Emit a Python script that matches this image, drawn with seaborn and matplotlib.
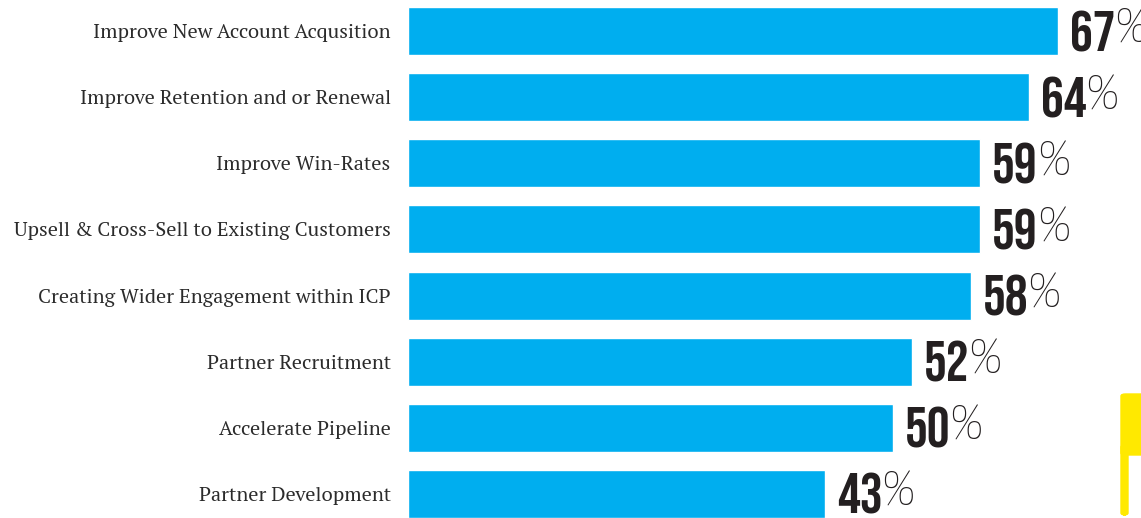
import matplotlib
matplotlib.use("Agg")
import matplotlib.pyplot as plt
import seaborn as sns
import pandas as pd
from matplotlib import font_manager as fm
from matplotlib.patches import FancyBboxPatch

categories = [
    "Improve New Account Acqusition",
    "Improve Retention and or Renewal",
    "Improve Win-Rates",
    "Upsell & Cross-Sell to Existing Customers",
    "Creating Wider Engagement within ICP",
    "Partner Recruitment",
    "Accelerate Pipeline",
    "Partner Development",
]
values = [67, 64, 59, 59, 58, 52, 50, 43]

_fonts = {}
for f in fm.fontManager.ttflist:
    try:
        w = int(f.weight)
    except (TypeError, ValueError):
        w = {"bold": 700, "light": 300, "normal": 400, "regular": 400}.get(str(f.weight), 400)
    _fonts.setdefault(f.name, set()).add(w)


def pick(cands, fallback="DejaVu Sans"):
    for c, need in cands:
        if c in _fonts and (need is None or need(_fonts[c])):
            return c
    return fallback


heavy = lambda ws: any(w >= 600 for w in ws)
thin = lambda ws: any(w <= 300 for w in ws)
bold_font = pick([("Bebas Neue", None), ("League Gothic", None), ("Anton", None),
                  ("Barlow Condensed", heavy)])
light_font = pick([("Yanone Kaffeesatz", thin), ("Saira Extra Condensed", thin),
                   ("Antonio", thin), ("Barlow Condensed", thin)])
serif_font = pick([("PT Serif", None), ("Source Serif 4", None), ("Noto Serif", None)],
                  fallback="DejaVu Serif")

df = pd.DataFrame({"category": categories, "value": values})

sns.set_theme(style="white")
W, H = 1141, 518
fig = plt.figure(figsize=(W / 100, H / 100), dpi=100)
ax = fig.add_axes([408 / W, 0, 733 / W, 1])
sns.barplot(data=df, y="category", x="value", orient="h", color="#00AEEF",
            saturation=1, width=48 / 66, ax=ax)
ax.set_xlim(0, 733 / 9.7)
ax.set_ylim(7 + (518 - 494) / 66, -31 / 66)
ax.set_xlabel("")
ax.set_ylabel("")
ax.set_xticks([])
for s in ax.spines.values():
    s.set_visible(False)
ax.tick_params(axis="y", length=0, pad=12.5)
for lab in ax.get_yticklabels():
    lab.set_fontfamily([serif_font, "DejaVu Serif"])
    lab.set_fontsize(14.5)
    lab.set_color("#2b2b2b")

for i, v in enumerate(values):
    t = ax.annotate(f"{v}", xy=(v, i), xytext=(8.5, 0), textcoords="offset points",
                    va="center", ha="left", fontsize=41, fontweight="bold",
                    family=[bold_font, "DejaVu Sans"], color="#231F20")
    ax.annotate("%", xy=(1, 0.5), xycoords=t, xytext=(-1.5, 1), textcoords="offset points",
                va="center", ha="left", fontsize=35, fontweight=200,
                family=[light_font, "DejaVu Sans"], color="#231F20")

# decorative yellow shape at the right edge
fig.patches.append(FancyBboxPatch((1121 / W, 63 / H), 30 / W, 61 / H,
                                  boxstyle="round,pad=0,rounding_size=0.004",
                                  transform=fig.transFigure, color="#FFE900"))
fig.patches.append(FancyBboxPatch((1121 / W, 3 / H), 7 / W, 70 / H,
                                  boxstyle="round,pad=0,rounding_size=0.004",
                                  transform=fig.transFigure, color="#FFE900"))

fig.savefig("out.png", dpi=100)
